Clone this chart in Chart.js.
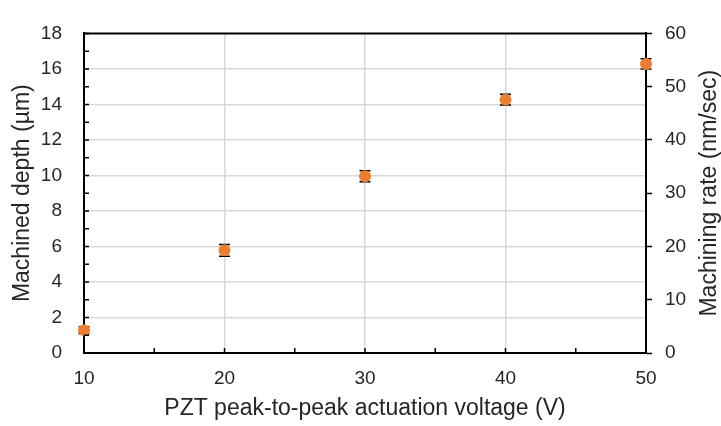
<!DOCTYPE html>
<html>
<head>
<meta charset="utf-8">
<script src="https://cdn.jsdelivr.net/npm/chart.js@4"></script>
<style>
  html, body { margin: 0; padding: 0; background: #fff; }
</style>
</head>
<body>
<canvas id="grafico" width="721" height="426"></canvas>
<script>
// Datos
const voltajes = [10, 20, 30, 40, 50];
const profundidad = [1.28, 5.78, 9.96, 14.27, 16.28];
const errorProf = [0.2, 0.33, 0.31, 0.3, 0.29];

const tituloX = 'PZT peak-to-peak actuation voltage (V)';
const tituloY = 'Machined depth (µm)';
const tituloY2 = 'Machining rate (nm/sec)';

const FUENTE = '"Liberation Sans", Arial, sans-serif';
const TEXTO = '#262626';
const REJILLA = '#d9d9d9';

// Barras de error, marcas internas, borde superior y título derecho
const extras = {
    id: 'extras',
    beforeDatasetsDraw(chart) {
        const { ctx, scales } = chart;
        ctx.save();
        ctx.strokeStyle = '#000';
        ctx.lineWidth = 1.5;
        voltajes.forEach((v, i) => {
            const px = scales.x.getPixelForValue(v);
            const top = scales.y.getPixelForValue(profundidad[i] + errorProf[i]);
            const bot = scales.y.getPixelForValue(profundidad[i] - errorProf[i]);
            ctx.beginPath();
            ctx.moveTo(px, top); ctx.lineTo(px, bot);
            ctx.moveTo(px - 5.5, top); ctx.lineTo(px + 5.5, top);
            ctx.moveTo(px - 5.5, bot); ctx.lineTo(px + 5.5, bot);
            ctx.stroke();
        });
        ctx.restore();
    },
    afterDraw(chart) {
        const { ctx, chartArea: a, scales } = chart;
        ctx.save();
        ctx.strokeStyle = '#000';
        ctx.lineWidth = 1.5;
        ctx.beginPath();
        scales.y.ticks.forEach(t => {
            const py = scales.y.getPixelForValue(t.value);
            ctx.moveTo(a.left, py); ctx.lineTo(a.left + 5, py);
        });
        scales.x.ticks.forEach(t => {
            const px = scales.x.getPixelForValue(t.value);
            ctx.moveTo(px, a.bottom); ctx.lineTo(px, a.bottom - 5);
        });
        ctx.stroke();
        ctx.lineWidth = 2;
        ctx.beginPath();
        ctx.moveTo(a.left - 1, a.top); ctx.lineTo(a.right + 1, a.top);
        ctx.stroke();

        // título del eje derecho, leído de abajo hacia arriba
        ctx.translate(710, (a.top + a.bottom) / 2);
        ctx.rotate(-Math.PI / 2);
        ctx.fillStyle = TEXTO;
        ctx.font = '23px ' + FUENTE;
        ctx.textAlign = 'center';
        ctx.textBaseline = 'middle';
        ctx.fillText(tituloY2, 0, 0);
        ctx.restore();
    }
};

const ctx = document.getElementById('grafico').getContext('2d');
new Chart(ctx, {
    type: 'scatter',
    data: {
        datasets: [{
            data: voltajes.map((v, i) => ({ x: v, y: profundidad[i] })),
            backgroundColor: '#ED7D31',
            borderWidth: 0,
            pointRadius: 6,
            clip: false
        }]
    },
    options: {
        responsive: false,
        animation: false,
        layout: { padding: { top: 16, left: 0, right: 0, bottom: 0 } },
        plugins: {
            legend: { display: false },
            tooltip: { enabled: false }
        },
        scales: {
            x: {
                type: 'linear',
                min: 10, max: 50,
                afterFit: s => { s.height = 73; },
                border: { display: true, color: '#000', width: 2 },
                grid: {
                    drawTicks: false,
                    lineWidth: 1.5,
                    color: c => (c.tick && c.tick.value % 10 === 0 && c.tick.value > 10 && c.tick.value < 50) ? REJILLA : 'rgba(0,0,0,0)'
                },
                ticks: {
                    stepSize: 5,
                    autoSkip: false,
                    maxRotation: 0,
                    padding: 14,
                    color: TEXTO,
                    font: { family: FUENTE, size: 19 },
                    callback: v => (v % 10 === 0 ? v : '')
                },
                title: {
                    display: true,
                    text: tituloX,
                    color: TEXTO,
                    font: { family: FUENTE, size: 23 },
                    padding: { top: 0, bottom: 4 }
                }
            },
            y: {
                position: 'left',
                min: 0, max: 18,
                afterFit: s => { s.width = 84; },
                border: { display: true, color: '#000', width: 2 },
                grid: {
                    drawTicks: false,
                    lineWidth: 1.5,
                    color: c => (c.tick && c.tick.value % 2 === 0 && c.tick.value > 0 && c.tick.value < 18) ? REJILLA : 'rgba(0,0,0,0)'
                },
                ticks: {
                    stepSize: 1,
                    autoSkip: false,
                    padding: 22,
                    color: TEXTO,
                    font: { family: FUENTE, size: 19 },
                    callback: v => (v % 2 === 0 ? v : '')
                },
                title: {
                    display: true,
                    text: tituloY,
                    color: TEXTO,
                    font: { family: FUENTE, size: 23 },
                    padding: { top: 9, bottom: 0 }
                }
            },
            y2: {
                position: 'right',
                min: 0, max: 60,
                afterFit: s => { s.width = 75; },
                border: { display: true, color: '#000', width: 2 },
                grid: {
                    drawOnChartArea: false,
                    drawTicks: true,
                    tickLength: 6,
                    tickColor: '#000',
                    tickWidth: 1.5
                },
                ticks: {
                    stepSize: 10,
                    padding: 13,
                    color: TEXTO,
                    font: { family: FUENTE, size: 19 }
                }
            }
        }
    },
    plugins: [extras]
});
</script>
</body>
</html>
